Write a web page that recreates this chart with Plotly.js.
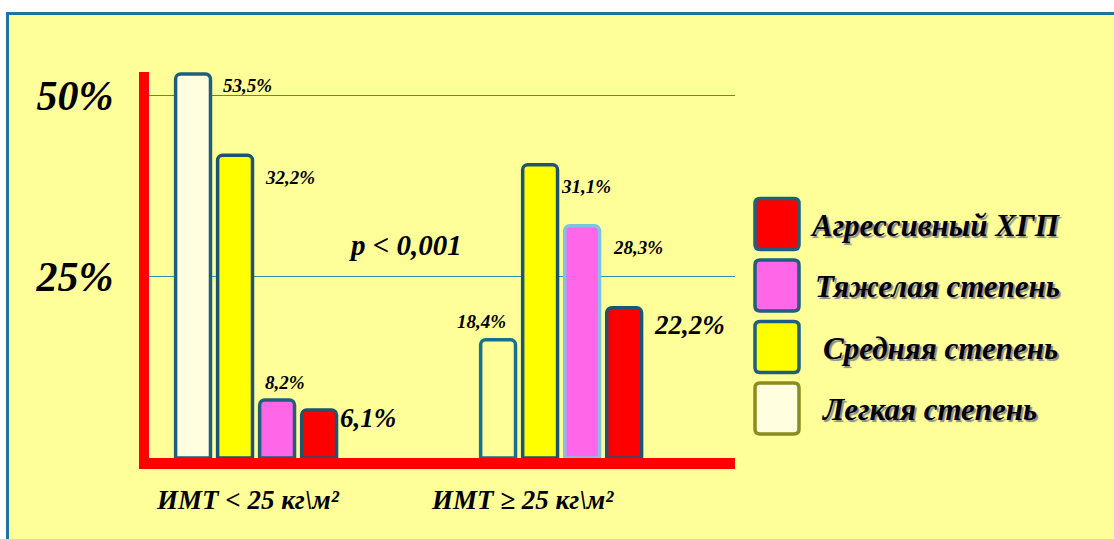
<!DOCTYPE html>
<html>
<head>
<meta charset="utf-8">
<script src="https://cdn.plot.ly/plotly-3.0.1.min.js"></script>
<style>
  html, body { margin:0; padding:0; background:#ffffff; width:1114px; height:539px; overflow:hidden; }
  #frame { position:absolute; left:6px; top:12px; width:1200px; height:600px; background:#FFFF99;
           border-top:3px solid #1B75A0; border-left:3px solid #1B75A0; }
  #chart { position:absolute; left:0; top:0; width:1114px; height:539px; }
</style>
</head>
<body>
<div id="frame"></div>
<div id="chart"></div>
<script>
// ---- data ----
const categories = ['ИМТ < 25 кг\\м²', 'ИМТ ≥ 25 кг\\м²'];
const seriesNames = ['Легкая степень', 'Средняя степень', 'Тяжелая степень', 'Агрессивный ХГП'];
// bar heights as drawn against the % axis
const legkaya    = [52.9, 16.3];
const srednyaya  = [41.7, 40.4];
const tyazhelaya = [8.0, 32.0];
const agressivny = [6.6, 20.7];
// printed percentages
const legkayaPct    = [53.5, 18.4];
const srednyayaPct  = [32.2, 31.1];
const tyazhelayaPct = [8.2, 28.3];
const agressivnyPct = [6.1, 22.2];
const yTickVals = [25, 50];
const yTickText = ['25%', '50%'];
const pText = 'p &lt; 0,001';

// ---- styling ----
const heights = [legkaya, srednyaya, tyazhelaya, agressivny];
const pcts = [legkayaPct, srednyayaPct, tyazhelayaPct, agressivnyPct];
const fills = [['#FFFFE0', 'rgba(0,0,0,0)'], ['#FFFF00', '#FFFF00'], ['#FF66E8', '#FF66E8'], ['#FF0000', '#FF0000']];
const edges = [['#1D5F7C', '#1A6E8E'], ['#1D5570', '#1D5570'], ['#1D5F7C', '#7CC4E0'], ['#1D5570', '#1D5570']];
const labelSize = [19, 19, 19, 27];
// pixel offsets of each printed label relative to (bar centre, bar top)
const labelShift = [
  [[28, -12], [-43, 18]],
  [[28, -22], [19, -22]],
  [[-14, 17], [29, -22]],
  [[19, -8], [28, -17]]
];
const legendFill = ['#FFFFE0', '#FFFF00', '#FF66E8', '#FF0000'];
const legendEdge = ['#8C8C1E', '#1D5F7C', '#1D5F7C', '#1D5F7C'];
const legendTextX = [819, 821, 813, 808];

const L = 149, R = 735, T = 72, B = 458;
const px = x => (x - L) / (R - L);
const py = y => (B - y) / (B - T);
const bargap = 0.449;
const slot = (1 - bargap) / 4;

const fontFam = '"Liberation Serif", "Times New Roman", serif';

const traces = seriesNames.map((name, i) => ({
  type: 'bar',
  name: name,
  x: categories,
  y: heights[i],
  marker: { color: fills[i], line: { color: edges[i], width: 3.5 }, cornerradius: 5 },
  hoverinfo: 'skip',
  showlegend: false
}));

const annotations = [];
seriesNames.forEach((name, i) => {
  categories.forEach((c, g) => {
    annotations.push({
      xref: 'x', yref: 'y',
      x: g + (i - 1.5) * slot, y: heights[i][g],
      xanchor: 'left', yanchor: 'middle',
      xshift: labelShift[i][g][0], yshift: labelShift[i][g][1],
      text: pcts[i][g].toFixed(1).replace('.', ',') + '%',
      showarrow: false,
      font: { family: fontFam, size: labelSize[i], weight: 'bold', style: 'italic', color: '#000' }
    });
  });
});
// category labels under the axis
const catShift = [-8, -39];
categories.forEach((c, g) => {
  annotations.push({
    xref: 'x', yref: 'y', x: g, y: 0,
    xanchor: 'center', yanchor: 'middle', xshift: catShift[g], yshift: -42,
    text: c.replace('<', '&lt;'), showarrow: false,
    font: { family: fontFam, size: 27, weight: 'bold', style: 'italic', color: '#000' }
  });
});
// p-value
annotations.push({
  xref: 'paper', yref: 'paper', x: px(405), y: py(245),
  xanchor: 'center', yanchor: 'middle', text: pText, showarrow: false,
  font: { family: fontFam, size: 29, weight: 'bold', style: 'italic', color: '#000' }
});

// custom legend (top to bottom: reverse series order)
const shapes = [];
const rr = 'M -22,-20.5 Q -22,-25.5 -17,-25.5 L 17,-25.5 Q 22,-25.5 22,-20.5 L 22,20.5 Q 22,25.5 17,25.5 L -17,25.5 Q -22,25.5 -22,20.5 Z';
[3, 2, 1, 0].forEach((si, row) => {
  const cy = 224 + row * 61.5;
  shapes.push({
    type: 'path', xref: 'paper', yref: 'paper',
    xsizemode: 'pixel', ysizemode: 'pixel',
    xanchor: px(777), yanchor: py(cy), path: rr,
    fillcolor: legendFill[si], line: { color: legendEdge[si], width: 3.5 }
  });
  annotations.push({
    xref: 'paper', yref: 'paper', x: px(legendTextX[si]), y: py(cy + 1),
    xanchor: 'left', yanchor: 'middle', text: seriesNames[si], showarrow: false,
    font: { family: fontFam, size: 31, weight: 'bold', style: 'italic', color: '#000',
            shadow: '2px 2px 1px #8a8a8a' }
  });
});

const layout = {
  width: 1114, height: 539,
  margin: { l: L, r: 1114 - R, t: T, b: 539 - B, pad: 0 },
  paper_bgcolor: 'rgba(0,0,0,0)', plot_bgcolor: 'rgba(0,0,0,0)',
  barmode: 'group', bargap: bargap, bargroupgap: 0.17,
  showlegend: false,
  xaxis: {
    type: 'category', range: [-0.351, 1.570],
    showline: true, linecolor: '#FF0000', linewidth: 11,
    showticklabels: false, ticks: '', showgrid: false, zeroline: false,
    layer: 'below traces', fixedrange: true
  },
  yaxis: {
    range: [0, (B - T) / 7.26],
    showline: true, linecolor: '#FF0000', linewidth: 10,
    tickvals: yTickVals, ticktext: yTickText, ticks: '',
    tickfont: { family: fontFam, size: 42, weight: 'bold', style: 'italic', color: '#000' },
    ticklabelstandoff: 17,
    showgrid: true, gridcolor: '#2F8DB0', gridwidth: 1, zeroline: false,
    layer: 'below traces', fixedrange: true
  },
  annotations: annotations,
  shapes: shapes
};

Plotly.newPlot('chart', traces, layout, { displayModeBar: false, staticPlot: true });
</script>
</body>
</html>
